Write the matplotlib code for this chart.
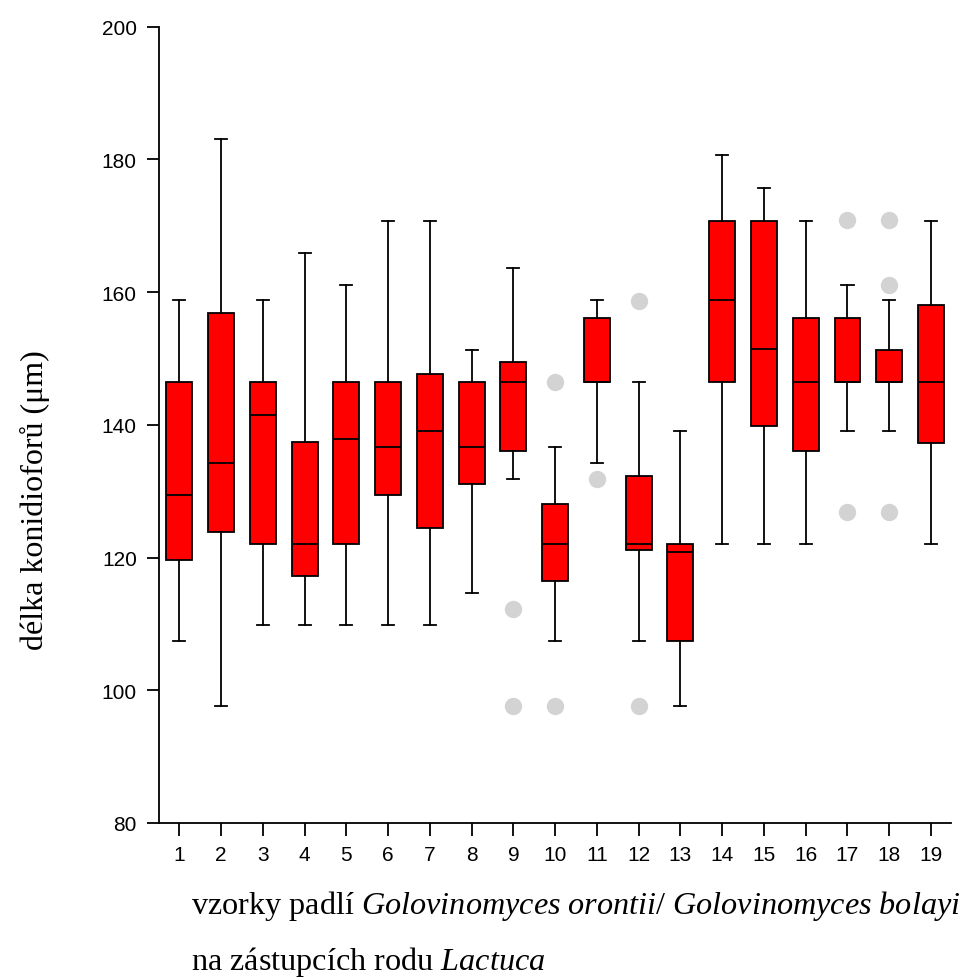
import matplotlib
matplotlib.use('Agg')
import matplotlib.pyplot as plt

plt.rcParams['font.family'] = ['Liberation Sans', 'DejaVu Sans']
plt.rcParams['mathtext.fontset'] = 'custom'
plt.rcParams['mathtext.rm'] = 'Liberation Serif'
plt.rcParams['mathtext.it'] = 'Liberation Serif:italic'

# box statistics (um)
samples = list(range(1, 20))
whislo = [107.4, 97.6, 109.8, 109.8, 109.8, 109.8, 109.8, 114.6, 131.9, 107.4,
          134.3, 107.4, 97.6, 122.0, 122.0, 122.0, 139.0, 139.0, 122.0]
q1 = [119.6, 123.9, 122.0, 117.2, 122.0, 129.4, 124.4, 131.1, 136.0, 116.4,
      146.5, 121.2, 107.4, 146.5, 139.8, 136.0, 146.5, 146.5, 137.3]
med = [129.4, 134.3, 141.5, 122.0, 137.9, 136.6, 139.0, 136.6, 146.5, 122.0,
       146.5, 122.0, 120.9, 158.8, 151.4, 146.5, 146.5, 146.5, 146.5]
q3 = [146.5, 156.8, 146.5, 137.4, 146.5, 146.5, 147.7, 146.5, 149.4, 128.0,
      156.1, 132.3, 122.0, 170.7, 170.7, 156.1, 156.1, 151.3, 158.0]
whishi = [158.8, 183.0, 158.8, 165.9, 161.1, 170.7, 170.7, 151.3, 163.6, 136.6,
          158.8, 146.5, 139.0, 180.6, 175.7, 170.7, 161.1, 158.8, 170.7]
fliers = [[], [], [], [], [], [], [], [], [112.3, 97.6], [146.4, 97.6],
          [131.8], [158.7, 97.6], [], [], [], [], [170.8, 126.9],
          [170.8, 161.1, 126.9], []]

stats = []
for i in range(len(samples)):
    stats.append(dict(label=str(samples[i]), whislo=whislo[i], q1=q1[i],
                      med=med[i], q3=q3[i], whishi=whishi[i], fliers=fliers[i]))

fig = plt.figure(figsize=(9.65, 9.78), dpi=100)
ax = fig.add_axes([0.1648, 0.1575, 0.8207, 0.8142])

ax.bxp(stats, positions=samples, widths=0.62, capwidths=0.29, patch_artist=True,
       boxprops=dict(facecolor='#ff0000', edgecolor='black', linewidth=1.3),
       medianprops=dict(color='black', linewidth=1.3),
       whiskerprops=dict(color='black', linewidth=1.3),
       capprops=dict(color='black', linewidth=1.3),
       flierprops=dict(marker='o', markerfacecolor='#d3d3d3', markeredgecolor='none',
                       markersize=12.5))

ax.set_xlim(0.513, 19.48)
ax.set_ylim(80, 200)
ax.set_yticks([80, 100, 120, 140, 160, 180, 200])
ax.spines['top'].set_visible(False)
ax.spines['right'].set_visible(False)
ax.spines['left'].set_linewidth(1.3)
ax.spines['bottom'].set_linewidth(1.3)
ax.tick_params(direction='out', length=9, width=1.3, labelsize=15, pad=7)

# y label sits lower than the axes centre in the original
fig.text(35 / 965, 1 - 500 / 978, 'délka konidioforů (μm)', family='Liberation Serif',
         fontsize=23, rotation=90, ha='center', va='center')

fig.text(191 / 965, 1 - 914 / 978,
         r'vzorky padlí $\it{Golovinomyces\ orontii/\ Golovinomyces\ bolayi}$',
         family='Liberation Serif', fontsize=23.2, ha='left', va='baseline')
fig.text(191 / 965, 1 - 970 / 978, r'na zástupcích rodu $\it{Lactuca}$',
         family='Liberation Serif', fontsize=23.2, ha='left', va='baseline')

fig.savefig('out.png', dpi=100)
